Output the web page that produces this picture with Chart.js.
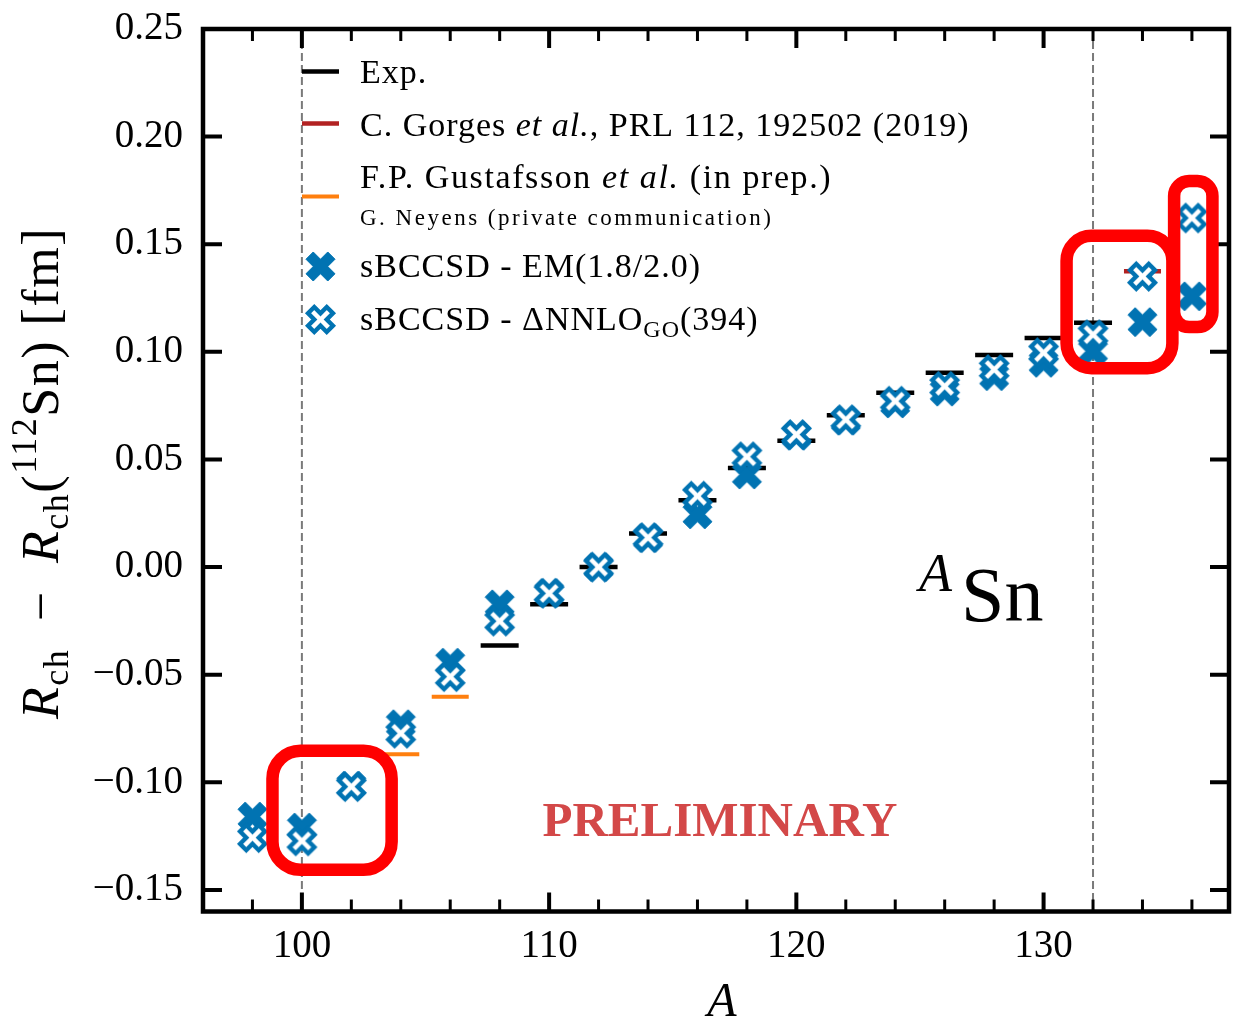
<!DOCTYPE html>
<html>
<head>
<meta charset="utf-8">
<title>Sn charge radii</title>
<script src="https://cdn.jsdelivr.net/npm/chart.js@4.4.1/dist/chart.umd.min.js"></script>
<style>
  html, body { margin: 0; padding: 0; background: #fff; }
  canvas { display: block; }
</style>
</head>
<body>
<canvas id="snChart" width="1235" height="1021"></canvas>
<script>
// R_ch(A) - R_ch(112Sn) in fm
const expA = [108, 110, 112, 114, 116, 118, 120, 122, 124, 126, 128, 130, 132];
const expR = [-0.0364, -0.0172, 0.0, 0.0156, 0.0311, 0.0460, 0.0587, 0.0706, 0.0810, 0.0903, 0.0985, 0.1065, 0.1135];

const gorgesA = [134];
const gorgesR = [0.1375];

const gustafssonA = [104, 106];
const gustafssonR = [-0.0870, -0.0602];

const theoryA = [98, 100, 102, 104, 106, 108, 110, 112, 114, 116, 118, 120, 122, 124, 126, 128, 130, 132, 134, 136];
const emR   = [-0.1159, -0.1210, -0.1015, -0.0730, -0.0444, -0.0173, -0.0120, 0.0, 0.0135, 0.0245, 0.0430, 0.0610, 0.0680, 0.0760, 0.0815, 0.0887, 0.0949, 0.1003, 0.1138, 0.1258];
const nnloR = [-0.1257, -0.1272, -0.1020, -0.0772, -0.0509, -0.0251, -0.0122, 0.0, 0.0137, 0.0330, 0.0513, 0.0616, 0.0685, 0.0771, 0.0840, 0.0918, 0.0996, 0.1080, 0.1351, 0.1622];

// neutron shell closures N = 50 and N = 82
const magicA = [100, 132];

const xTicks = [98, 100, 102, 104, 106, 108, 110, 112, 114, 116, 118, 120, 122, 124, 126, 128, 130, 132, 134, 136];
const yTicks = [-0.15, -0.10, -0.05, 0.00, 0.05, 0.10, 0.15, 0.20, 0.25];

// highlighted regions: [A from, A to, R top, R bottom, corner radius]
const highlightBoxes = [
  [98.81, 103.63, -0.0853, -0.1406, 28],
  [130.93, 135.21, 0.1539, 0.0924, 25],
  [135.28, 136.83, 0.1794, 0.1115, 15]
];

const serif = 'Liberation Serif';
const blue = '#0173b2';

function font(size, style, weight) {
  return (style || 'normal') + ' ' + (weight || 'normal') + ' ' + size + 'px "' + serif + '"';
}

function toPoints(xs, ys) {
  return xs.map((a, i) => ({ x: a, y: ys[i] }));
}

// matplotlib-like 'X' marker: a plus sign rotated by 45 degrees
function makeCross(arm, edge, fill, stroke) {
  const w = arm / 3;
  const ext = (arm + w) / Math.SQRT2 + edge * 1.5 + 2;
  const dim = Math.ceil(ext * 2);
  const c = document.createElement('canvas');
  c.width = dim;
  c.height = dim;
  const g = c.getContext('2d');
  const pts = [[-w, -arm], [w, -arm], [w, -w], [arm, -w], [arm, w], [w, w], [w, arm], [-w, arm], [-w, w], [-arm, w], [-arm, -w], [-w, -w]];
  g.translate(dim / 2, dim / 2);
  g.beginPath();
  pts.forEach(([px, py], i) => {
    const rx = (px - py) / Math.SQRT2;
    const ry = (px + py) / Math.SQRT2;
    if (i === 0) g.moveTo(rx, ry); else g.lineTo(rx, ry);
  });
  g.closePath();
  g.fillStyle = fill;
  g.fill();
  if (edge > 0) {
    g.lineJoin = 'miter';
    g.lineWidth = edge;
    g.strokeStyle = stroke;
    g.stroke();
  }
  return c;
}

const filledX = makeCross(15.4, 1, blue, blue);
const openX = makeCross(13.2, 4.4, '#ffffff', blue);

function drawRuns(ctx, runs, x, y) {
  let cx = x;
  for (const r of runs) {
    ctx.font = font(r.size, r.style, r.weight);
    ctx.fillText(r.text, cx, y + (r.dy || 0));
    cx += ctx.measureText(r.text).width;
  }
  return cx - x;
}

function runsWidth(ctx, runs) {
  let w = 0;
  for (const r of runs) {
    ctx.font = font(r.size, r.style, r.weight);
    w += ctx.measureText(r.text).width;
  }
  return w;
}

function hline(ctx, x0, x1, y, color, lw) {
  ctx.strokeStyle = color;
  ctx.lineWidth = lw;
  ctx.beginPath();
  ctx.moveTo(x0, y);
  ctx.lineTo(x1, y);
  ctx.stroke();
}

const decorations = {
  id: 'decorations',
  beforeDatasetsDraw(chart) {
    const { ctx, chartArea: a, scales: { x } } = chart;
    ctx.save();
    ctx.strokeStyle = '#7a7a7a';
    ctx.lineWidth = 2;
    ctx.setLineDash([8, 4]);
    for (const v of magicA) {
      const px = x.getPixelForValue(v);
      ctx.beginPath();
      ctx.moveTo(px, a.top);
      ctx.lineTo(px, a.bottom);
      ctx.stroke();
    }
    ctx.restore();
  },
  afterDatasetsDraw(chart) {
    const { ctx, chartArea: a, scales: { x, y } } = chart;
    ctx.save();

    // inward ticks on all four sides
    ctx.strokeStyle = '#000';
    for (const t of x.ticks) {
      const px = x.getPixelForValue(t.value);
      const major = t.value % 10 === 0;
      const len = major ? 19 : 12;
      ctx.lineWidth = major ? 4 : 3;
      ctx.beginPath();
      ctx.moveTo(px, a.bottom); ctx.lineTo(px, a.bottom - len);
      ctx.moveTo(px, a.top); ctx.lineTo(px, a.top + len);
      ctx.stroke();
    }
    for (const t of y.ticks) {
      const py = y.getPixelForValue(t.value);
      ctx.lineWidth = 4;
      ctx.beginPath();
      ctx.moveTo(a.left, py); ctx.lineTo(a.left + 19, py);
      ctx.moveTo(a.right, py); ctx.lineTo(a.right - 19, py);
      ctx.stroke();
    }
    ctx.lineWidth = 4.5;
    ctx.strokeRect(a.left, a.top, a.right - a.left, a.bottom - a.top);

    ctx.fillStyle = '#000';
    ctx.textBaseline = 'alphabetic';
    ctx.textAlign = 'left';

    // axis titles
    ctx.font = font(48, 'italic');
    ctx.textAlign = 'center';
    ctx.fillText('A', (a.left + a.right) / 2 + 6, 1016);
    ctx.textAlign = 'left';

    const yTitle = [
      { text: 'R', size: 52, style: 'italic' },
      { text: 'ch', size: 36, dy: 10 },
      { text: '\u2002\u2212\u2002', size: 52 },
      { text: 'R', size: 52, style: 'italic' },
      { text: 'ch', size: 36, dy: 10 },
      { text: '(', size: 52 },
      { text: '112', size: 36, dy: -22 },
      { text: 'Sn)', size: 52 },
      { text: ' [fm]', size: 52 }
    ];
    ctx.save();
    ctx.translate(58, 473);
    ctx.rotate(-Math.PI / 2);
    ctx.letterSpacing = '1.5px';
    drawRuns(ctx, yTitle, -runsWidth(ctx, yTitle) / 2, 0);
    ctx.letterSpacing = '0px';
    ctx.restore();

    // in-plot labels
    drawRuns(ctx, [{ text: 'A', size: 54, style: 'italic' }], a.left + 716, 591);
    drawRuns(ctx, [{ text: 'Sn', size: 78 }], a.left + 758, 621);

    ctx.fillStyle = '#d34848';
    ctx.font = font(49, 'normal', 'bold');
    ctx.textAlign = 'center';
    ctx.fillText('PRELIMINARY', a.left + 517, 836);
    ctx.textAlign = 'left';

    // legend
    const lx0 = a.left + 99, lx1 = a.left + 136, tx = a.left + 157;
    hline(ctx, lx0, lx1, 71.5, '#000', 4.5);
    hline(ctx, lx0, lx1, 123.5, '#b22222', 4.5);
    hline(ctx, lx0, lx1, 196.5, '#ff7f0e', 4);
    const mx = (lx0 + lx1) / 2;
    ctx.drawImage(filledX, mx - filledX.width / 2, 266.5 - filledX.height / 2);
    ctx.drawImage(openX, mx - openX.width / 2, 319.5 - openX.height / 2);

    ctx.fillStyle = '#000';
    ctx.letterSpacing = '1px';
    drawRuns(ctx, [{ text: 'Exp.', size: 34 }], tx, 83);
    drawRuns(ctx, [
      { text: 'C. Gorges ', size: 34 },
      { text: 'et al.', size: 34, style: 'italic' },
      { text: ', PRL 112, 192502 (2019)', size: 34 }
    ], tx, 136);
    ctx.letterSpacing = '1.6px';
    drawRuns(ctx, [
      { text: 'F.P. Gustafsson ', size: 34 },
      { text: 'et al.', size: 34, style: 'italic' },
      { text: ' (in prep.)', size: 34 }
    ], tx, 188);
    ctx.letterSpacing = '2.5px';
    drawRuns(ctx, [{ text: 'G. Neyens (private communication)', size: 23 }], tx, 225);
    ctx.letterSpacing = '1px';
    drawRuns(ctx, [{ text: 'sBCCSD - EM(1.8/2.0)', size: 34 }], tx, 277);
    drawRuns(ctx, [
      { text: 'sBCCSD - \u0394NNLO', size: 34 },
      { text: 'GO', size: 24, dy: 7 },
      { text: '(394)', size: 34 }
    ], tx, 330);
    ctx.letterSpacing = '0px';
    ctx.restore();
  },
  afterDraw(chart) {
    const { ctx, scales: { x, y } } = chart;
    ctx.save();
    ctx.strokeStyle = '#ff0000';
    ctx.lineWidth = 12.5;
    for (const [a0, a1, r0, r1, rad] of highlightBoxes) {
      const px0 = x.getPixelForValue(a0), px1 = x.getPixelForValue(a1);
      const py0 = y.getPixelForValue(r0), py1 = y.getPixelForValue(r1);
      ctx.beginPath();
      ctx.roundRect(px0, py0, px1 - px0, py1 - py0, rad);
      ctx.stroke();
    }
    ctx.restore();
  }
};

const tickFont = { family: serif, size: 39 };

// keep tick labels from pushing the plot frame inwards
function clearScalePadding(s) {
  s.paddingTop = 0;
  s.paddingBottom = 0;
  s.paddingLeft = 0;
  s.paddingRight = 0;
}

new Chart(document.getElementById('snChart'), {
  type: 'scatter',
  data: {
    datasets: [
      {
        label: 'sBCCSD - \u0394NNLO_GO(394)',
        data: toPoints(theoryA, nnloR),
        pointStyle: openX,
        pointRadius: 14,
        order: 0
      },
      {
        label: 'sBCCSD - EM(1.8/2.0)',
        data: toPoints(theoryA, emR),
        pointStyle: filledX,
        pointRadius: 14,
        order: 1
      },
      {
        label: 'F.P. Gustafsson et al. (in prep.)',
        data: toPoints(gustafssonA, gustafssonR),
        pointStyle: 'line',
        pointRadius: 18.5,
        borderColor: '#ff7f0e',
        pointBorderWidth: 4,
        order: 2
      },
      {
        label: 'C. Gorges et al., PRL 112, 192502 (2019)',
        data: toPoints(gorgesA, gorgesR),
        pointStyle: 'line',
        pointRadius: 18.5,
        borderColor: '#b22222',
        pointBorderWidth: 4.5,
        order: 3
      },
      {
        label: 'Exp.',
        data: toPoints(expA, expR),
        pointStyle: 'line',
        pointRadius: 19,
        borderColor: '#000000',
        pointBorderWidth: 4.5,
        order: 4
      }
    ]
  },
  options: {
    responsive: false,
    animation: false,
    events: [],
    layout: { autoPadding: false, padding: { top: 29, right: 6, left: 0, bottom: 0 } },
    plugins: {
      legend: { display: false },
      tooltip: { enabled: false }
    },
    scales: {
      x: {
        type: 'linear',
        min: 96,
        max: 137.5,
        afterBuildTicks: s => { s.ticks = xTicks.map(v => ({ value: v })); },
        afterFit: s => { s.height = 109.5; clearScalePadding(s); },
        grid: { display: false, drawTicks: false },
        border: { display: false },
        ticks: {
          autoSkip: false,
          maxRotation: 0,
          padding: 12,
          color: '#000',
          font: tickFont,
          callback: v => (v % 10 === 0 ? String(v) : '')
        }
      },
      y: {
        type: 'linear',
        min: -0.16,
        max: 0.25,
        afterBuildTicks: s => { s.ticks = yTicks.map(v => ({ value: v })); },
        afterFit: s => { s.width = 203; clearScalePadding(s); },
        grid: { display: false, drawTicks: false },
        border: { display: false },
        ticks: {
          autoSkip: false,
          padding: 20,
          color: '#000',
          font: tickFont,
          callback: v => (v < 0 ? '\u2212' : '') + Math.abs(v).toFixed(2)
        }
      }
    }
  },
  plugins: [decorations]
});
</script>
</body>
</html>
